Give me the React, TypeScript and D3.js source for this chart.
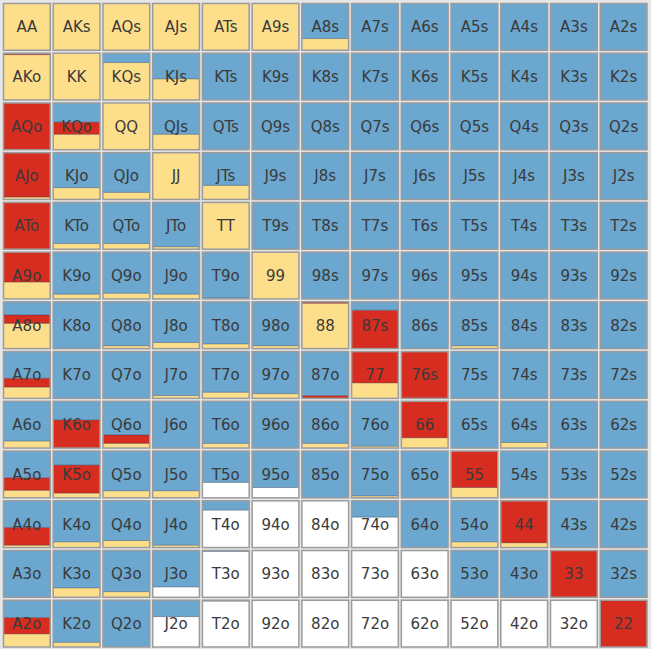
import React from "react";
import * as d3 from "d3";

const ranks = ["A", "K", "Q", "J", "T", "9", "8", "7", "6", "5", "4", "3", "2"];

// Fractions of each cell filled, stacked from the bottom: yellow, red, white; blue fills the rest.
const yellowFreq: number[][] = [
  [1, 1, 1, 1, 1, 1, 0.25, 0, 0, 0, 0, 0, 0],
  [0.97, 1, 0.8, 0.45, 0, 0, 0, 0, 0, 0, 0, 0, 0],
  [0, 0.33, 1, 0.33, 0, 0, 0, 0, 0, 0, 0, 0, 0],
  [0.05, 0.25, 0.15, 1, 0.3, 0, 0, 0, 0, 0, 0, 0, 0],
  [0, 0.12, 0.12, 0.05, 1, 0, 0, 0, 0, 0, 0, 0, 0],
  [0.36, 0.1, 0.12, 0.1, 0.02, 1, 0, 0, 0, 0, 0, 0, 0],
  [0.54, 0, 0.06, 0.13, 0.1, 0.06, 0.97, 0, 0, 0.06, 0, 0, 0],
  [0.24, 0, 0, 0.06, 0.13, 0.1, 0, 0.33, 0, 0, 0, 0, 0],
  [0.15, 0, 0.1, 0, 0.1, 0, 0.1, 0.04, 0.22, 0, 0.12, 0, 0],
  [0.16, 0.1, 0.15, 0.15, 0, 0, 0, 0.04, 0, 0.22, 0, 0, 0],
  [0.05, 0.12, 0.15, 0.05, 0, 0, 0, 0, 0, 0.12, 0.1, 0, 0],
  [0, 0.2, 0.12, 0, 0, 0, 0, 0, 0, 0, 0, 0, 0],
  [0.28, 0.1, 0, 0, 0, 0, 0, 0, 0, 0, 0, 0, 0],
];

const redFreq: number[][] = [
  [0, 0, 0, 0, 0, 0, 0, 0, 0, 0, 0, 0, 0],
  [0.03, 0, 0, 0, 0, 0, 0, 0, 0, 0, 0, 0, 0],
  [1, 0.26, 0, 0, 0, 0, 0, 0, 0, 0, 0, 0, 0],
  [0.95, 0, 0, 0, 0, 0, 0, 0, 0, 0, 0, 0, 0],
  [1, 0, 0, 0, 0, 0, 0, 0, 0, 0, 0, 0, 0],
  [0.64, 0, 0, 0, 0, 0, 0, 0, 0, 0, 0, 0, 0],
  [0.18, 0, 0, 0, 0, 0, 0.03, 0.82, 0, 0, 0, 0, 0],
  [0.19, 0, 0, 0, 0, 0, 0.06, 0.67, 1, 0, 0, 0, 0],
  [0, 0.6, 0.18, 0, 0, 0, 0, 0, 0.78, 0, 0, 0, 0],
  [0.27, 0.6, 0, 0, 0, 0, 0, 0, 0, 0.78, 0, 0, 0],
  [0.38, 0, 0, 0, 0, 0, 0, 0, 0, 0, 0.9, 0, 0],
  [0, 0, 0, 0, 0, 0, 0, 0, 0, 0, 0, 1, 0],
  [0.35, 0, 0, 0, 0, 0, 0, 0, 0, 0, 0, 0, 1],
];

const whiteFreq: number[][] = [
  [0, 0, 0, 0, 0, 0, 0, 0, 0, 0, 0, 0, 0],
  [0, 0, 0, 0, 0, 0, 0, 0, 0, 0, 0, 0, 0],
  [0, 0, 0, 0, 0, 0, 0, 0, 0, 0, 0, 0, 0],
  [0, 0, 0, 0, 0, 0, 0, 0, 0, 0, 0, 0, 0],
  [0, 0, 0, 0, 0, 0, 0, 0, 0, 0, 0, 0, 0],
  [0, 0, 0, 0, 0, 0, 0, 0, 0, 0, 0, 0, 0],
  [0, 0, 0, 0, 0, 0, 0, 0, 0, 0, 0, 0, 0],
  [0, 0, 0, 0, 0, 0, 0, 0, 0, 0, 0, 0, 0],
  [0, 0, 0, 0, 0, 0, 0, 0, 0, 0, 0, 0, 0],
  [0, 0, 0, 0, 0.33, 0.22, 0, 0, 0, 0, 0, 0, 0],
  [0, 0, 0, 0, 0.8, 1, 1, 0.65, 0, 0, 0, 0, 0],
  [0, 0, 0, 0.22, 0.98, 1, 1, 1, 1, 0, 0, 0, 0],
  [0, 0, 0, 0.65, 0.98, 1, 1, 1, 1, 1, 1, 1, 0],
];

const COLORS = { yellow: "#fddf8b", red: "#d62d20", white: "#ffffff", blue: "#6ba7cf" };

function label(i: number, j: number): string {
  if (i === j) return ranks[i] + ranks[j];
  if (i < j) return ranks[i] + ranks[j] + "s";
  return ranks[j] + ranks[i] + "o";
}

export default function App() {
  const W = 651;
  const H = 649;
  const x = d3.scaleBand<number>().domain(d3.range(13)).range([2, 648.5]).paddingInner(0.06).paddingOuter(0.03);
  const y = d3.scaleBand<number>().domain(d3.range(13)).range([2, 648.5]).paddingInner(0.06).paddingOuter(0.03);
  const bw = x.bandwidth();
  const bh = y.bandwidth();

  const cells: React.ReactNode[] = [];
  for (let i = 0; i < 13; i++) {
    for (let j = 0; j < 13; j++) {
      const x0 = x(j)!;
      const y0 = y(i)!;
      const yf = yellowFreq[i][j];
      const rf = redFreq[i][j];
      const wf = whiteFreq[i][j];
      const bf = Math.max(0, 1 - yf - rf - wf);
      const segs = [
        { f: yf, c: COLORS.yellow },
        { f: rf, c: COLORS.red },
        { f: wf, c: COLORS.white },
        { f: bf, c: COLORS.blue },
      ];
      const h = d3.scaleLinear().domain([0, 1]).range([0, bh]);
      let acc = 0;
      const rects: React.ReactNode[] = [];
      const lines: React.ReactNode[] = [];
      segs.forEach((s, k) => {
        if (s.f <= 0) return;
        const top = y0 + bh - h(acc + s.f);
        rects.push(
          <rect key={"r" + k} x={x0} y={top} width={bw} height={h(s.f)} fill={s.c} />
        );
        acc += s.f;
        if (acc < 0.999) {
          lines.push(
            <line key={"l" + k} x1={x0} x2={x0 + bw} y1={y0 + bh - h(acc)} y2={y0 + bh - h(acc)}
              stroke="rgba(40,40,60,0.35)" strokeWidth={1} />
          );
        }
      });
      cells.push(
        <g key={i + "-" + j}>
          {rects}
          {lines}
          <rect x={x0} y={y0} width={bw} height={bh} fill="none" stroke="#9b9b9b" strokeWidth={1.5} />
          <text x={x0 + bw / 2} y={y0 + bh / 2} dy="0.36em" textAnchor="middle"
            fontFamily="'DejaVu Sans', Verdana, sans-serif" fontSize={15} fill="#3a3a3a">
            {label(i, j)}
          </text>
        </g>
      );
    }
  }

  return (
    <svg width={W} height={H} style={{ position: "absolute", left: 0, top: 0, display: "block" }}>
      <rect x={0} y={0} width={W} height={H} fill="#e6e6e6" />
      {cells}
    </svg>
  );
}
